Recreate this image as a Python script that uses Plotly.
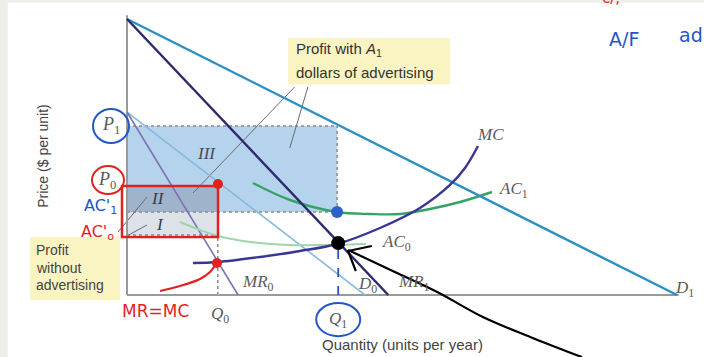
import plotly.graph_objects as go

# ---- Demand / marginal revenue (quantity, price) ----
d1_q, d1_p = [0, 100], [100, 0]
mr1_q, mr1_p = [0, 47.5], [100, 0]
d0_q, d0_p = [0, 43.3], [66.3, 0]
mr0_q, mr0_p = [0, 20.2], [66.3, 0]

# ---- Cost curves ----
mc_q = [12.0, 16.55, 24.18, 31.45, 38.18, 46.0, 53.27, 58.73, 61.45, 63.82]
mc_p = [11.59, 11.96, 13.77, 15.94, 18.48, 24.28, 31.52, 39.86, 46.01, 53.99]
ac1_q = [22.91, 29.64, 38.18, 44.18, 49.64, 55.09, 60.55, 66.36]
ac1_p = [40.58, 34.42, 30.07, 29.35, 29.35, 31.16, 33.70, 37.32]
ac0_q = [9.64, 13.27, 16.55, 22.36, 29.64, 36.91, 43.45]
ac0_p = [26.45, 23.55, 21.38, 19.20, 18.12, 18.12, 18.48]

# ---- Equilibrium levels ----
Q0, Q1 = 16.5, 38.2
P0, P1 = 39.5, 61.2
AC_A1 = 30.1   # average cost with advertising at Q1
AC_0 = 21.7    # average cost without advertising at Q0
MC_Q1 = 18.8

# ---- Hand-drawn arrow ----
arrow_q = [82.7, 73.3, 64.7, 56.4, 48.7, 43.3, 40.2]
arrow_p = [-22.5, -15.2, -7.97, 1.09, 8.33, 13.4, 16.3]
head_q = [44.5, 40.2, 41.6]
head_p = [17.75, 15.94, 8.7]
pointer_q = [6.0, 9.64, 13.27, 15.09, 16.18]
pointer_p = [1.45, 3.26, 5.80, 8.33, 11.23]

GRAY = "#5a5a5a"
SERIF = "Liberation Serif"
SANS = "Liberation Sans"
RED = "#e41f1f"
BLUE = "#2456c6"

fig = go.Figure()

def line(q, p, color, width, dash=None, shape="linear"):
    fig.add_trace(go.Scatter(x=q, y=p, mode="lines",
                             line=dict(color=color, width=width, dash=dash, shape=shape),
                             hoverinfo="skip", showlegend=False))

# Profit regions
shapes = [
    dict(type="rect", x0=0, x1=Q1, y0=AC_A1, y1=P1, fillcolor="#b6d3ee", line_width=0, layer="below"),
    dict(type="rect", x0=0, x1=Q0, y0=AC_A1, y1=P0, fillcolor="#9fb4cb", line_width=0, layer="below"),
    dict(type="rect", x0=0, x1=Q0, y0=AC_0, y1=AC_A1, fillcolor="#dde2e8", line_width=0, layer="below"),
    # callout boxes
    dict(type="rect", x0=29.3, x1=58.7, y0=76.4, y1=93.1, fillcolor="#faf3c2", line_width=0, layer="below"),
    dict(type="rect", x0=-17.6, x1=-1.3, y0=-1.8, y1=21.0, fillcolor="#faf3c2", line_width=0, layer="below"),
    # page edges
    dict(type="rect", xref="paper", yref="paper", x0=0, x1=0.011, y0=0, y1=1,
         fillcolor="#efefe8", line_width=0, layer="below"),
    dict(type="rect", xref="paper", yref="paper", x0=0, x1=1, y0=0.992, y1=1,
         fillcolor="#efefea", line_width=0, layer="below"),
]

# dotted guide lines
dot = dict(color="#8a8a8a", width=1.5, dash="dot")
line([0, Q1], [P1, P1], **dot)
line([Q1, Q1], [AC_A1, P1], **dot)
line([0, Q1], [AC_A1, AC_A1], **dot)
line([0, Q0], [P0, P0], **dot)
line([0, Q0], [AC_0, AC_0], **dot)
line([Q0, Q0], [0, P0], **dot)

# callout pointers
for q, p in [([30.5, 12.0], [75.4, 36.96]), ([32.9, 29.6], [75.4, 53.3]),
             ([-1.64, 3.64], [22.8, 35.5]), ([-0.36, 3.64], [21.0, 25.4])]:
    line(q, p, "#6a6a6a", 1)

# axes
line([0, 0], [0, 101.4], "#9a9a9a", 2)
line([0, 100.3], [0, 0], "#9a9a9a", 2)

# curves
line(d0_q, d0_p, "#86b9de", 1.6)
line(mr0_q, mr0_p, "#7b74b2", 1.6)
line(ac0_q, ac0_p, "#9fd5aa", 2, shape="spline")
line(ac1_q, ac1_p, "#34a465", 2.4, shape="spline")
line(d1_q, d1_p, "#2b8fc5", 2.4)
line(mr1_q, mr1_p, "#2b2b6e", 2.4)
line(mc_q, mc_p, "#3a3592", 2.4, shape="spline")

# hand-drawn marks
line([Q1 + 0.2, Q1 + 0.2], [0, MC_Q1], BLUE, 1.8, dash="dash")
line(pointer_q, pointer_p, RED, 2.2, shape="spline")
line(arrow_q, arrow_p, "#000000", 2.2, shape="spline")
line(head_q, head_p, "#000000", 2.2)
shapes += [
    dict(type="rect", x0=-0.91, x1=Q0 + 0.05, y0=21.0, y1=P0, line=dict(color=RED, width=2.5)),
    dict(type="circle", x0=-6.18, x1=0.36, y0=55.1, y1=67.4, line=dict(color=BLUE, width=2)),
    dict(type="circle", x0=-6.36, x1=-0.55, y0=36.6, y1=46.7, line=dict(color=RED, width=2)),
    dict(type="circle", x0=34.4, x1=42.4, y0=-14.9, y1=-2.9, line=dict(color=BLUE, width=2)),
]
fig.add_trace(go.Scatter(x=[Q0 + 0.05, 16.36], y=[40.2, 11.6], mode="markers",
                         marker=dict(color=RED, size=10), hoverinfo="skip", showlegend=False))
fig.add_trace(go.Scatter(x=[Q1], y=[AC_A1], mode="markers",
                         marker=dict(color="#2a62c9", size=12), hoverinfo="skip", showlegend=False))
fig.add_trace(go.Scatter(x=[Q1 + 0.2], y=[MC_Q1], mode="markers",
                         marker=dict(color="#000000", size=14), hoverinfo="skip", showlegend=False))

ann = []
def text(q, p, s, size=13, font=SERIF, color=GRAY, xanchor="center", angle=0, yanchor="middle"):
    ann.append(dict(x=q, y=p, text=s, showarrow=False, xanchor=xanchor, yanchor=yanchor,
                    textangle=angle, font=dict(family=font, size=size, color=color)))

text(30.4, 88.8, "Profit with <i>A</i><sub>1</sub>", 15, SANS, "#333333", "left")
text(30.4, 80.6, "dollars of advertising", 15, SANS, "#333333", "left")
text(-16.9, 16.3, "Profit", 14, SANS, "#444444", "left")
text(-16.9, 9.8, "without", 14, SANS, "#444444", "left")
text(-16.9, 3.6, "advertising", 14, SANS, "#444444", "left")
text(14.4, 51.4, "<i>III</i>", 17, SERIF, "#4a4a5a")
text(5.64, 35.1, "<i>II</i>", 17, SERIF, "#3a3a4a")
text(6.0, 25.7, "<i>I</i>", 17, SERIF, "#3a3a4a")
text(-2.9, 61.4, "<i>P</i><sub>1</sub>", 18)
text(-3.6, 41.6, "<i>P</i><sub>0</sub>", 18)
text(66.0, 58.3, "<i>MC</i>", 17)
text(67.3, 38.0, "<i>AC</i><sub>1</sub>", 17, xanchor="left")
text(46.0, 18.8, "<i>AC</i><sub>0</sub>", 17, xanchor="left")
text(23.8, 4.35, "<i>MR</i><sub>0</sub>", 17)
text(43.8, 3.6, "<i>D</i><sub>0</sub>", 17)
text(52.2, 4.35, "<i>MR</i><sub>1</sub>", 17)
text(101.3, 2.2, "<i>D</i><sub>1</sub>", 17)
text(16.9, -7.25, "<i>Q</i><sub>0</sub>", 17)
text(38.4, -8.9, "<i>Q</i><sub>1</sub>", 17)
text(50.0, -17.75, "Quantity (units per year)", 15, SANS, "#444444")
text(-15.3, 50.4, "Price ($ per unit)", 14, SANS, "#444444", angle=-90)

# handwritten notes
text(-4.9, 31.9, "AC'<sub>1</sub>", 16, "DejaVu Sans", BLUE)
text(-5.3, 22.8, "AC'<sub>o</sub>", 16, "DejaVu Sans", RED)
text(5.27, -5.8, "MR=MC", 17, "DejaVu Sans", RED)
text(90.4, 92.75, "A/F", 19, "DejaVu Sans", BLUE)
text(102.6, 94.2, "ad", 19, "DejaVu Sans", BLUE)
text(88.0, 103.6, "c/,", 15, "DejaVu Sans", RED, yanchor="bottom")

fig.update_layout(
    width=704, height=357, margin=dict(l=0, r=0, t=0, b=0, pad=0),
    paper_bgcolor="white", plot_bgcolor="white",
    xaxis=dict(range=[-23.09, 104.91], visible=False, domain=[0, 1], fixedrange=True),
    yaxis=dict(range=[-22.46, 106.88], visible=False, domain=[0, 1], fixedrange=True),
    shapes=shapes, annotations=ann, showlegend=False,
)

fig.write_html("out.html")
